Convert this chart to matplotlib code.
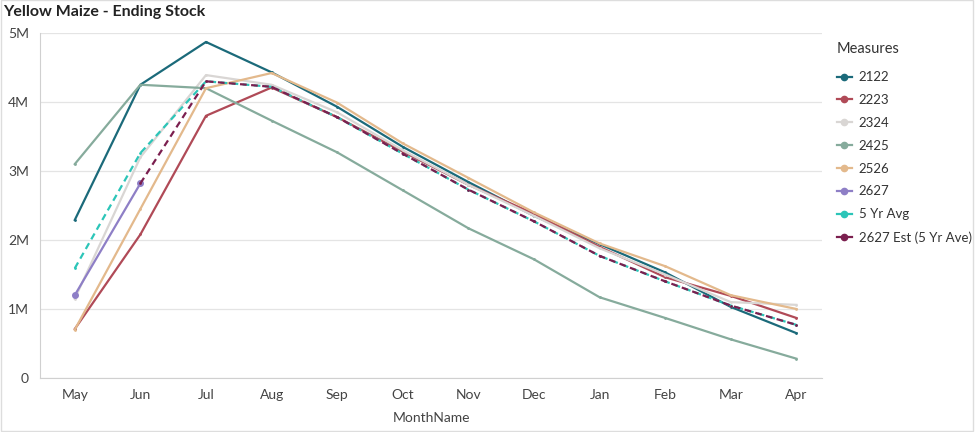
import matplotlib
matplotlib.use("Agg")
import matplotlib.pyplot as plt
import numpy as np
from matplotlib.lines import Line2D
from matplotlib.patches import Rectangle
from matplotlib.ticker import FuncFormatter

plt.rcParams["font.family"] = ["Lato", "DejaVu Sans"]

months = ["May", "Jun", "Jul", "Aug", "Sep", "Oct", "Nov", "Dec", "Jan", "Feb", "Mar", "Apr"]

# ending stock in millions
s2122 = [2.29, 4.25, 4.87, 4.43, 3.93, 3.35, 2.84, 2.35, 1.94, 1.53, 1.03, 0.65]
s2223 = [0.71, 2.08, 3.80, 4.21, 3.78, 3.28, 2.80, 2.38, 1.90, 1.46, 1.19, 0.87]
s2324 = [1.15, 3.20, 4.39, 4.25, 3.85, 3.30, 2.80, 2.35, 1.88, 1.50, 1.10, 1.06]
s2425 = [3.10, 4.25, 4.20, 3.73, 3.27, 2.72, 2.17, 1.72, 1.17, 0.87, 0.56, 0.28]
s2526 = [0.70, 2.45, 4.20, 4.42, 3.99, 3.40, 2.90, 2.40, 1.95, 1.62, 1.20, 1.00]
s2627 = [1.20, 2.82]
avg5 = [1.59, 3.26, 4.30, 4.22, 3.78, 3.25, 2.73, 2.27, 1.77, 1.40, 1.05, 0.77]
est2627 = [None, 2.82, 4.30, 4.22, 3.78, 3.25, 2.73, 2.27, 1.77, 1.40, 1.05, 0.77]

series = [
    ("2122", s2122, "#1b6a7a", "-"),
    ("2223", s2223, "#b04a57", "-"),
    ("2324", s2324, "#d9d6d4", "-"),
    ("2425", s2425, "#86ab9c", "-"),
    ("2526", s2526, "#e3b98c", "-"),
    ("2627", s2627, "#8e7fc6", "-"),
    ("5 Yr Avg", avg5, "#2cc5b8", "--"),
    ("2627 Est (5 Yr Ave)", est2627, "#7b1f4f", "--"),
]

fig = plt.figure(figsize=(9.75, 4.32), dpi=100)
ax = fig.add_axes([40 / 975, 1 - 378 / 432, 782 / 975, 345 / 432])

x = np.arange(len(months))
handles = []
for name, vals, color, ls in series:
    v = np.array([np.nan if a is None else a * 1e6 for a in vals], dtype=float)
    xs = x[:len(v)]
    ms = 4 if name == "2627" else 1.0
    ax.plot(xs, v, color=color, lw=1.6, ls=ls, marker="o", ms=ms,
            dashes=(3, 2) if ls == "--" else (None, None))
    handles.append(Line2D([0], [0], color=color, lw=1.6, marker="o", ms=4.5, label=name))

ax.set_xlim(-0.53, 11.39)
ax.set_ylim(0, 5e6)
ax.set_xticks(x)
ax.set_xticklabels(months)
ax.set_yticks(np.arange(0, 6) * 1e6)
ax.yaxis.set_major_formatter(FuncFormatter(lambda v, p: "0" if v == 0 else f"{v / 1e6:.0f}M"))
ax.grid(axis="y", color="#e4e4e4", lw=0.9)
ax.set_axisbelow(True)
for side in ["top", "right"]:
    ax.spines[side].set_visible(False)
for side in ["left", "bottom"]:
    ax.spines[side].set_color("#d0d0d0")
ax.tick_params(length=0, labelsize=10, labelcolor="#444444", pad=8)
ax.set_xlabel("MonthName", fontsize=10, color="#444444", labelpad=8)

fig.text(3 / 975, 1 - 12 / 432, "Yellow Maize - Ending Stock", fontsize=11.5, fontweight="bold",
         color="#222222", va="center", ha="left")

leg = fig.legend(handles=handles, loc="upper left", bbox_to_anchor=(837 / 975, 1 - 42 / 432),
                 frameon=False, title="Measures", fontsize=9.5, title_fontsize=10.5,
                 handlelength=1.1, handletextpad=0.55, labelspacing=0.82,
                 borderpad=0, borderaxespad=0)
leg._legend_box.align = "left"
leg._legend_box.sep = 11
leg.get_title().set_color("#333333")
for t in leg.get_texts():
    t.set_color("#333333")

fig.patches.append(Rectangle((0.001, 0.003), 0.997, 0.996, transform=fig.transFigure,
                             fill=False, edgecolor="#dddddd", lw=1))

fig.savefig("out.png", dpi=100)
